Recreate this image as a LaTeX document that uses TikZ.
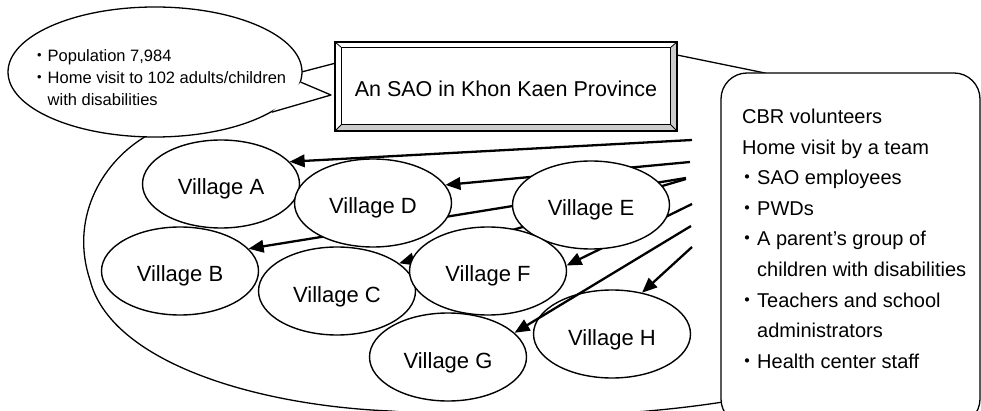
\documentclass[tikz,border=0pt]{standalone}
\usepackage{fontspec}
\setmainfont{Liberation Sans}
\newfontfamily\cjkdot{Noto Sans CJK JP}
\usetikzlibrary{arrows.meta,shapes.geometric}
\pgfdeclarelayer{back}
\pgfsetlayers{back,main}
\newcommand\mdot{{\cjkdot ・}}
\definecolor{bevelgray}{gray}{0.8}

\begin{document}
\begin{tikzpicture}[x=1pt,y=-1pt,
  outline/.style={line width=1.3pt, line join=round},
  village/.style={ellipse, draw, fill=white, line width=1.4pt,
    minimum width=157pt, minimum height=88pt, inner sep=0pt,
    font=\fontsize{22}{26}\selectfont, text height=22pt, text depth=0pt},
  visit/.style={line width=2.3pt, -{Triangle[length=15pt,width=12.5pt]}},
  bubbleline/.style={anchor=base west, inner sep=0pt, font=\fontsize{16.5}{20}\selectfont},
  teamline/.style={anchor=base west, inner sep=0pt, font=\fontsize{20}{24}\selectfont}]

\useasboundingbox (0,0) rectangle (981,411);
\clip (0,0) rectangle (981,411);

% district boundary
\draw[outline] (290,75) -- (336,63) -- (677,55) -- (765,73) -- (800,100)
  -- (800,390) -- (723,402)
  .. controls (620,418) and (500,420) .. (390,411)
  .. controls (250,405) and (110,360) .. (90,280)
  .. controls (70,220) and (100,165) .. (143,138) -- (170,120) -- cycle;

% villages
\node[village] (vA) at (221,184) {Village A};
\node[village] (vD) at (373,203) {Village D};
\node[village] (vE) at (591,205) {Village E};
\node[village] (vB) at (180,271) {Village B};
\node[village] (vC) at (337,291) {Village C};
\node[village] (vF) at (488,271) {Village F};
\node[village] (vG) at (448,357) {Village G};
\node[village] (vH) at (612,334) {Village H};

% home visits leave from the team
\coordinate (sA) at (692,140);
\coordinate (sD) at (690,162);
\coordinate (sB) at (686,178);
\coordinate (sC) at (686,179);
\coordinate (sF) at (692,204);
\coordinate (sG) at (691,226);
\coordinate (sH) at (692,247);

\begin{pgfonlayer}{back}
  \draw[visit] (sA) -- (vA.18);
  \draw[visit] (sD) -- (vD.14);
  \draw[visit] (sB) -- (vB.18);
  \draw[visit] (sC) -- (vC.24);
  \draw[visit] (sF) -- (vF.4);
\end{pgfonlayer}
\draw[visit] (sG) -- (vG.20);
\draw[visit] (sH) -- (vH.54);

% SAO frame with bevel
\node[fill=white, minimum width=342pt, minimum height=89pt, inner sep=0pt,
  font=\fontsize{21.5}{26}\selectfont, text height=20pt, text depth=0pt]
  (sao) at (506,86.5) {An SAO in Khon Kaen Province};
\coordinate (i1) at ([shift={(7,6)}]sao.north west);
\coordinate (i2) at ([shift={(-7,6)}]sao.north east);
\coordinate (i3) at ([shift={(-7,-7)}]sao.south east);
\coordinate (i4) at ([shift={(7,-7)}]sao.south west);
\fill[bevelgray] (sao.north east) -- (sao.south east) -- (sao.south west)
  -- (i4) -- (i3) -- (i2) -- cycle;
\draw[line width=1.8pt] (sao.north west) rectangle (sao.south east);
\draw[line width=1.1pt] (i1) rectangle (i3);
\draw[line width=0.8pt] (sao.north west) -- (i1) (sao.north east) -- (i2)
  (sao.south east) -- (i3) (sao.south west) -- (i4);

% speech bubble
\node[ellipse, draw, fill=white, line width=1.3pt, minimum width=294pt,
  minimum height=130pt, inner sep=0pt] (bubble) at (155,72) {};
\coordinate (tip) at (331,95);
\fill[white] (bubble.-4) -- (tip) -- (bubble.-19) -- cycle;
\draw[outline] (bubble.-4) -- (tip) -- (bubble.-19);
\node[bubbleline] (b1) at (31,62) {\mdot Population 7,984};
\node[bubbleline] (b2) at (31,84) {\mdot Home visit to 102 adults/children};
\node[bubbleline] (b3) at (31,106) {\phantom{\mdot}with disabilities};

% team box
\node[draw, fill=white, line width=1.3pt, rounded corners=26pt,
  minimum width=259pt, minimum height=352pt, inner sep=0pt] (team) at (850.5,249) {};
\node[teamline] (t1) at (742,124) {CBR volunteers};
\node[teamline] (t2) at (742,154.5) {Home visit by a team};
\node[teamline] (t3) at (737,185) {\mdot SAO employees};
\node[teamline] (t4) at (737,215.5) {\mdot PWDs};
\node[teamline] (t5) at (737,246) {\mdot A parent's group of};
\node[teamline] (t6) at (737,276.5) {\phantom{\mdot}children with disabilities};
\node[teamline] (t7) at (737,307) {\mdot Teachers and school};
\node[teamline] (t8) at (737,337.5) {\phantom{\mdot}administrators};
\node[teamline] (t9) at (737,368) {\mdot Health center staff};

\end{tikzpicture}
\end{document}
